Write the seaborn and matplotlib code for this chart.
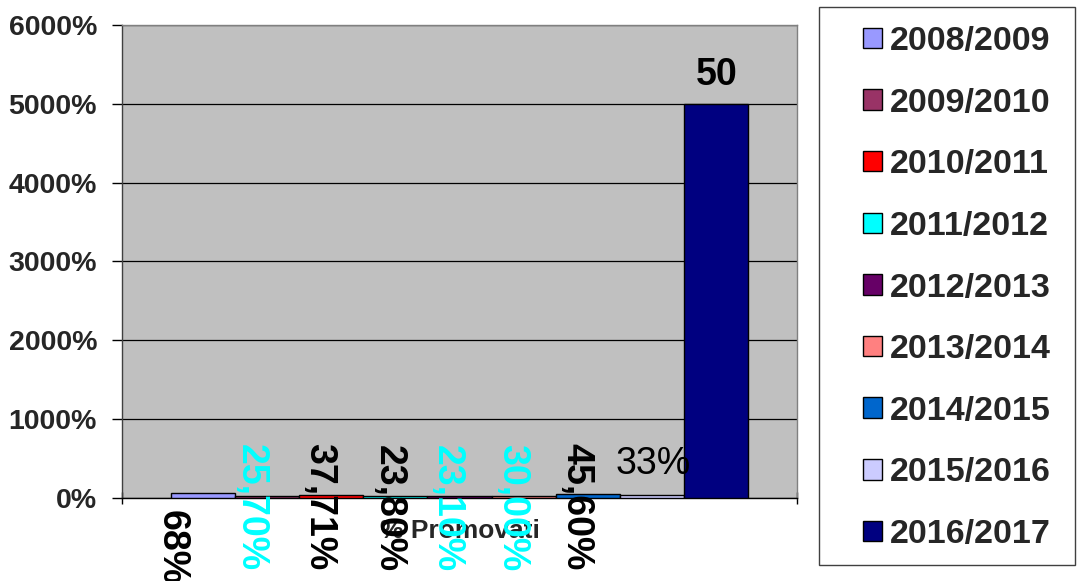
import matplotlib
matplotlib.use("Agg")
import matplotlib.pyplot as plt
import matplotlib.ticker as mticker
from matplotlib.patches import Patch, Rectangle
import seaborn as sns
import pandas as pd

# --- dati ---
categoria = '% Promovati'
anni = ['2008/2009', '2009/2010', '2010/2011', '2011/2012', '2012/2013',
        '2013/2014', '2014/2015', '2015/2016', '2016/2017']
valori = [0.68, 0.257, 0.3771, 0.238, 0.231, 0.30, 0.456, 0.33, 50]
etichette = ['68%', '25,70%', '37,71%', '23,80%', '23,10%', '30,00%', '45,60%', '33%', '50']
colori = ['#9999FF', '#993366', '#FF0000', '#00FFFF', '#660066',
          '#FF8080', '#0066CC', '#CCCCFF', '#000080']
colori_etichette = ['black', 'cyan', 'black', 'black', 'cyan', 'cyan', 'black', 'black', 'black']

# posizione delle etichette (offset in pixel dal centro/cima della barra), rotazione
offset_etichette = [(-31, -55), (-16, -12), (-12, -12), (-7, -12), (-13, -12),
                    (-12, -12), (-12, -12), (1, 31), (0, 29)]
rotazioni = [-90, -90, -90, -90, -90, -90, -90, 0, 0]

df = pd.DataFrame({'categoria': [categoria] * len(anni), 'anno': anni, 'valore': valori})

sns.set_style("white")
plt.rcParams['font.family'] = ['Liberation Sans', 'DejaVu Sans']

fig = plt.figure(figsize=(10.82, 5.81), dpi=100)
ax = fig.add_axes([122 / 1082, 1 - 498 / 581, 675 / 1082, 473 / 581])

sns.barplot(data=df, x='categoria', y='valore', hue='anno', hue_order=anni,
            palette=dict(zip(anni, colori)), saturation=1, width=0.856, gap=0,
            edgecolor='black', linewidth=1, legend=False, ax=ax, zorder=3)

ax.set_facecolor('#C0C0C0')
ax.set_xlim(-0.5, 0.5)
ax.set_ylim(0, 60)
ax.set_yticks(range(0, 61, 10))
ax.yaxis.set_major_formatter(mticker.FuncFormatter(lambda v, p: f"{v * 100:.0f}%"))
ax.yaxis.grid(True, color='black', linewidth=0.9, zorder=0)
ax.set_axisbelow(True)
ax.tick_params(axis='y', left=True, length=7, width=1, color='black', labelsize=20.5, pad=11)
for t in ax.get_yticklabels():
    t.set_fontweight('bold')

# asse x: tacche ai bordi della categoria, etichetta al centro
ax.set_xticks([-0.5, 0.5])
ax.set_xticklabels(['', ''])
ax.tick_params(axis='x', bottom=True, length=9, width=1, direction='inout', color='black')
ax.set_xticks([0], minor=True)
ax.set_xticklabels([categoria], minor=True, fontsize=19, fontweight='bold')
ax.tick_params(axis='x', which='minor', length=0, pad=15)
ax.set_xlabel('')
ax.set_ylabel('')

for side in ['top', 'right']:
    ax.spines[side].set_color('#808080')
ax.spines['left'].set_color('#404040')
ax.spines['bottom'].set_color('black')
for s in ax.spines.values():
    s.set_linewidth(1)

# etichette dati
for i, cont in enumerate(ax.containers):
    bar = cont.patches[0]
    xc = bar.get_x() + bar.get_width() / 2
    dx, dy = offset_etichette[i]
    ax.annotate(etichette[i], xy=(xc, bar.get_height()), xytext=(dx, dy),
                textcoords='offset pixels', ha='center', va='center',
                rotation=rotazioni[i], color=colori_etichette[i],
                fontsize=27, fontweight='normal' if etichette[i] == '33%' else 'bold',
                annotation_clip=False, zorder=5)

# legenda
fig.patches.append(Rectangle((819 / 1082, 1 - 565 / 581), 256 / 1082, 558 / 581,
                             transform=fig.transFigure, facecolor='white',
                             edgecolor='#404040', linewidth=1, zorder=0))
handles = [Patch(facecolor=c, edgecolor='black', linewidth=1) for c in colori]
leg = fig.legend(handles, anni, loc='center left',
                 bbox_to_anchor=(863 / 1082, 1 - 288 / 581),
                 frameon=False, prop={'weight': 'bold', 'size': 24.5},
                 handlelength=0.55, handleheight=0.55, handletextpad=0.25,
                 labelspacing=0.9, borderpad=0, borderaxespad=0)

fig.savefig('out.png', dpi=100)
